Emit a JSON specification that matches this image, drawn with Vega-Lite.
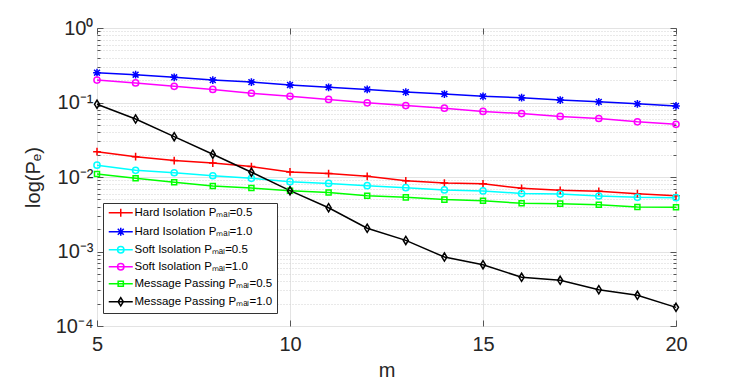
{
  "$schema": "https://vega.github.io/schema/vega-lite/v6.json",
  "autosize": {"type": "none"},
  "width": 579,
  "height": 298,
  "padding": {"left": 97, "top": 28, "right": 71, "bottom": 57},
  "background": "white",
  "config": {
    "font": "Liberation Sans",
    "view": {"stroke": "#555555", "strokeWidth": 1},
    "axis": {"labelFont": "Liberation Sans", "titleFont": "Liberation Sans", "labelColor": "#262626", "titleColor": "#262626", "titleFontWeight": "normal", "domainColor": "#555555", "tickColor": "#555555"}
  },
  "data": {"values": [
    {"m":5,"series":"Hard Isolation Pₘₐₗ=0.5","pe":0.0219},{"m":6,"series":"Hard Isolation Pₘₐₗ=0.5","pe":0.0187},{"m":7,"series":"Hard Isolation Pₘₐₗ=0.5","pe":0.0166},{"m":8,"series":"Hard Isolation Pₘₐₗ=0.5","pe":0.0154},{"m":9,"series":"Hard Isolation Pₘₐₗ=0.5","pe":0.0138},{"m":10,"series":"Hard Isolation Pₘₐₗ=0.5","pe":0.0117},{"m":11,"series":"Hard Isolation Pₘₐₗ=0.5","pe":0.0111},{"m":12,"series":"Hard Isolation Pₘₐₗ=0.5","pe":0.0102},{"m":13,"series":"Hard Isolation Pₘₐₗ=0.5","pe":0.0089},{"m":14,"series":"Hard Isolation Pₘₐₗ=0.5","pe":0.0083},{"m":15,"series":"Hard Isolation Pₘₐₗ=0.5","pe":0.0081},{"m":16,"series":"Hard Isolation Pₘₐₗ=0.5","pe":0.00705},{"m":17,"series":"Hard Isolation Pₘₐₗ=0.5","pe":0.00663},{"m":18,"series":"Hard Isolation Pₘₐₗ=0.5","pe":0.00643},{"m":19,"series":"Hard Isolation Pₘₐₗ=0.5","pe":0.00597},{"m":20,"series":"Hard Isolation Pₘₐₗ=0.5","pe":0.00561},
    {"m":5,"series":"Hard Isolation Pₘₐₗ=1.0","pe":0.251},{"m":6,"series":"Hard Isolation Pₘₐₗ=1.0","pe":0.236},{"m":7,"series":"Hard Isolation Pₘₐₗ=1.0","pe":0.218},{"m":8,"series":"Hard Isolation Pₘₐₗ=1.0","pe":0.200},{"m":9,"series":"Hard Isolation Pₘₐₗ=1.0","pe":0.188},{"m":10,"series":"Hard Isolation Pₘₐₗ=1.0","pe":0.172},{"m":11,"series":"Hard Isolation Pₘₐₗ=1.0","pe":0.160},{"m":12,"series":"Hard Isolation Pₘₐₗ=1.0","pe":0.150},{"m":13,"series":"Hard Isolation Pₘₐₗ=1.0","pe":0.138},{"m":14,"series":"Hard Isolation Pₘₐₗ=1.0","pe":0.130},{"m":15,"series":"Hard Isolation Pₘₐₗ=1.0","pe":0.121},{"m":16,"series":"Hard Isolation Pₘₐₗ=1.0","pe":0.116},{"m":17,"series":"Hard Isolation Pₘₐₗ=1.0","pe":0.108},{"m":18,"series":"Hard Isolation Pₘₐₗ=1.0","pe":0.102},{"m":19,"series":"Hard Isolation Pₘₐₗ=1.0","pe":0.096},{"m":20,"series":"Hard Isolation Pₘₐₗ=1.0","pe":0.090},
    {"m":5,"series":"Soft Isolation Pₘₐₗ=0.5","pe":0.0144},{"m":6,"series":"Soft Isolation Pₘₐₗ=0.5","pe":0.0123},{"m":7,"series":"Soft Isolation Pₘₐₗ=0.5","pe":0.0114},{"m":8,"series":"Soft Isolation Pₘₐₗ=0.5","pe":0.0104},{"m":9,"series":"Soft Isolation Pₘₐₗ=0.5","pe":0.0096},{"m":10,"series":"Soft Isolation Pₘₐₗ=0.5","pe":0.00865},{"m":11,"series":"Soft Isolation Pₘₐₗ=0.5","pe":0.0082},{"m":12,"series":"Soft Isolation Pₘₐₗ=0.5","pe":0.00765},{"m":13,"series":"Soft Isolation Pₘₐₗ=0.5","pe":0.0072},{"m":14,"series":"Soft Isolation Pₘₐₗ=0.5","pe":0.0067},{"m":15,"series":"Soft Isolation Pₘₐₗ=0.5","pe":0.0065},{"m":16,"series":"Soft Isolation Pₘₐₗ=0.5","pe":0.0060},{"m":17,"series":"Soft Isolation Pₘₐₗ=0.5","pe":0.0059},{"m":18,"series":"Soft Isolation Pₘₐₗ=0.5","pe":0.00556},{"m":19,"series":"Soft Isolation Pₘₐₗ=0.5","pe":0.00533},{"m":20,"series":"Soft Isolation Pₘₐₗ=0.5","pe":0.00528},
    {"m":5,"series":"Soft Isolation Pₘₐₗ=1.0","pe":0.200},{"m":6,"series":"Soft Isolation Pₘₐₗ=1.0","pe":0.183},{"m":7,"series":"Soft Isolation Pₘₐₗ=1.0","pe":0.165},{"m":8,"series":"Soft Isolation Pₘₐₗ=1.0","pe":0.150},{"m":9,"series":"Soft Isolation Pₘₐₗ=1.0","pe":0.133},{"m":10,"series":"Soft Isolation Pₘₐₗ=1.0","pe":0.121},{"m":11,"series":"Soft Isolation Pₘₐₗ=1.0","pe":0.110},{"m":12,"series":"Soft Isolation Pₘₐₗ=1.0","pe":0.099},{"m":13,"series":"Soft Isolation Pₘₐₗ=1.0","pe":0.091},{"m":14,"series":"Soft Isolation Pₘₐₗ=1.0","pe":0.084},{"m":15,"series":"Soft Isolation Pₘₐₗ=1.0","pe":0.076},{"m":16,"series":"Soft Isolation Pₘₐₗ=1.0","pe":0.071},{"m":17,"series":"Soft Isolation Pₘₐₗ=1.0","pe":0.065},{"m":18,"series":"Soft Isolation Pₘₐₗ=1.0","pe":0.061},{"m":19,"series":"Soft Isolation Pₘₐₗ=1.0","pe":0.055},{"m":20,"series":"Soft Isolation Pₘₐₗ=1.0","pe":0.051},
    {"m":5,"series":"Message Passing Pₘₐₗ=0.5","pe":0.01097},{"m":6,"series":"Message Passing Pₘₐₗ=0.5","pe":0.0096},{"m":7,"series":"Message Passing Pₘₐₗ=0.5","pe":0.0085},{"m":8,"series":"Message Passing Pₘₐₗ=0.5","pe":0.00757},{"m":9,"series":"Message Passing Pₘₐₗ=0.5","pe":0.0071},{"m":10,"series":"Message Passing Pₘₐₗ=0.5","pe":0.00655},{"m":11,"series":"Message Passing Pₘₐₗ=0.5","pe":0.0062},{"m":12,"series":"Message Passing Pₘₐₗ=0.5","pe":0.0056},{"m":13,"series":"Message Passing Pₘₐₗ=0.5","pe":0.00533},{"m":14,"series":"Message Passing Pₘₐₗ=0.5","pe":0.00497},{"m":15,"series":"Message Passing Pₘₐₗ=0.5","pe":0.00481},{"m":16,"series":"Message Passing Pₘₐₗ=0.5","pe":0.00443},{"m":17,"series":"Message Passing Pₘₐₗ=0.5","pe":0.00439},{"m":18,"series":"Message Passing Pₘₐₗ=0.5","pe":0.00425},{"m":19,"series":"Message Passing Pₘₐₗ=0.5","pe":0.00395},{"m":20,"series":"Message Passing Pₘₐₗ=0.5","pe":0.00392},
    {"m":5,"series":"Message Passing Pₘₐₗ=1.0","pe":0.0946},{"m":6,"series":"Message Passing Pₘₐₗ=1.0","pe":0.060},{"m":7,"series":"Message Passing Pₘₐₗ=1.0","pe":0.0348},{"m":8,"series":"Message Passing Pₘₐₗ=1.0","pe":0.0202},{"m":9,"series":"Message Passing Pₘₐₗ=1.0","pe":0.0116},{"m":10,"series":"Message Passing Pₘₐₗ=1.0","pe":0.00655},{"m":11,"series":"Message Passing Pₘₐₗ=1.0","pe":0.00387},{"m":12,"series":"Message Passing Pₘₐₗ=1.0","pe":0.00205},{"m":13,"series":"Message Passing Pₘₐₗ=1.0","pe":0.00141},{"m":14,"series":"Message Passing Pₘₐₗ=1.0","pe":0.000843},{"m":15,"series":"Message Passing Pₘₐₗ=1.0","pe":0.000665},{"m":16,"series":"Message Passing Pₘₐₗ=1.0","pe":0.00045},{"m":17,"series":"Message Passing Pₘₐₗ=1.0","pe":0.00041},{"m":18,"series":"Message Passing Pₘₐₗ=1.0","pe":0.000307},{"m":19,"series":"Message Passing Pₘₐₗ=1.0","pe":0.000258},{"m":20,"series":"Message Passing Pₘₐₗ=1.0","pe":0.000178}
  ]},
  "resolve": {"scale": {"x": "independent", "y": "independent"}},
  "layer": [
    {
      "encoding": {
        "x": {"field": "m", "type": "quantitative", "title": "m",
          "scale": {"domain": [5, 20], "nice": false, "zero": false},
          "axis": {"values": [5, 10, 15, 20], "labelFontSize": 20, "titleFontSize": 20, "tickSize": -6, "labelPadding": 14, "titlePadding": 6,
            "gridColor": "#e3e3e3", "gridWidth": 1, "domain": false, "labelFlush": false}},
        "y": {"field": "pe", "type": "quantitative", "title": "log(Pₑ)",
          "scale": {"type": "log", "domain": [0.0001, 1], "nice": false},
          "axis": {
            "values": [0.0001,0.0002,0.0003,0.0004,0.0005,0.0006,0.0007,0.0008,0.0009,0.001,0.002,0.003,0.004,0.005,0.006,0.007,0.008,0.009,0.01,0.02,0.03,0.04,0.05,0.06,0.07,0.08,0.09,0.1,0.2,0.3,0.4,0.5,0.6,0.7,0.8,0.9,1],
            "labelExpr": "datum.value == 1 ? '10⁰' : datum.value == 0.1 ? '10⁻¹' : datum.value == 0.01 ? '10⁻²' : datum.value == 0.001 ? '10⁻³' : datum.value == 0.0001 ? '10⁻⁴' : ''",
            "labelFontSize": 20, "titleFontSize": 20, "labelOverlap": false, "labelFlush": false, "labelPadding": 10, "titlePadding": 12, "domain": false,
            "tickSize": {"condition": {"test": "indexof([1,0.1,0.01,0.001,0.0001], datum.value) >= 0", "value": -6}, "value": -3},
            "gridColor": {"condition": {"test": "indexof([1,0.1,0.01,0.001,0.0001], datum.value) >= 0", "value": "#e3e3e3"}, "value": "#d2d2d2"},
            "gridDash": {"condition": {"test": "indexof([1,0.1,0.01,0.001,0.0001], datum.value) >= 0", "value": []}, "value": [1, 2]}
          }},
        "color": {"field": "series", "type": "nominal",
          "scale": {"domain": ["Hard Isolation Pₘₐₗ=0.5","Hard Isolation Pₘₐₗ=1.0","Soft Isolation Pₘₐₗ=0.5","Soft Isolation Pₘₐₗ=1.0","Message Passing Pₘₐₗ=0.5","Message Passing Pₘₐₗ=1.0"],
                    "range": ["#ff0000","#0000ff","#00ffff","#ff00ff","#00ff00","#000000"]},
          "legend": {"orient": "none", "legendX": 6, "legendY": 175, "title": null, "fillColor": "white", "strokeColor": "#333333", "padding": 4,
            "labelFont": "Liberation Sans", "labelFontSize": 11.5, "labelColor": "#000000", "symbolSize": 64, "symbolStrokeWidth": 1.5, "symbolOffset": 8, "labelOffset": 8, "rowPadding": 4,
            "encode": {"symbols": {"update": {"shape": {"signal": "'M-3,0H3' + scale('shape', datum.value)"}, "fill": {"value": "transparent"}}}}}
        }
      },
      "layer": [
        {"mark": {"type": "line", "strokeWidth": 1.5}},
        {"mark": {"type": "point", "filled": false, "size": 60, "strokeWidth": 1.5, "opacity": 1},
         "encoding": {
           "shape": {"field": "series", "type": "nominal",
             "scale": {"domain": ["Message Passing Pₘₐₗ=1.0","Message Passing Pₘₐₗ=0.5","Soft Isolation Pₘₐₗ=1.0","Soft Isolation Pₘₐₗ=0.5","Hard Isolation Pₘₐₗ=1.0","Hard Isolation Pₘₐₗ=0.5"],
                       "range": ["M0,-1.05L0.65,0L0,1.05L-0.65,0Z", "M-0.65,-0.65H0.65V0.65H-0.65Z", "M0.8,0A0.8,0.8,0,1,1,-0.8,0A0.8,0.8,0,1,1,0.8,0Z", "M0.8,0A0.8,0.8,0,1,1,-0.8,0A0.8,0.8,0,1,1,0.8,0Z", "M-1,0H1M0,-1V1M-0.75,-0.75L0.75,0.75M-0.75,0.75L0.75,-0.75", "M-1,0H1M0,-1V1"]},
             "legend": null}
         }}
      ]
    },
    {
      "mark": {"type": "point", "opacity": 0},
      "encoding": {
        "x": {"field": "m", "type": "quantitative",
          "scale": {"domain": [5, 20], "nice": false, "zero": false},
          "axis": {"orient": "top", "values": [5, 10, 15, 20], "labels": false, "title": null, "grid": false, "domain": false, "tickSize": -6}},
        "y": {"field": "pe", "type": "quantitative",
          "scale": {"type": "log", "domain": [0.0001, 1], "nice": false},
          "axis": {"orient": "right", "labels": false, "title": null, "grid": false, "domain": false,
            "values": [0.0001,0.0002,0.0003,0.0004,0.0005,0.0006,0.0007,0.0008,0.0009,0.001,0.002,0.003,0.004,0.005,0.006,0.007,0.008,0.009,0.01,0.02,0.03,0.04,0.05,0.06,0.07,0.08,0.09,0.1,0.2,0.3,0.4,0.5,0.6,0.7,0.8,0.9,1],
            "tickSize": {"condition": {"test": "indexof([1,0.1,0.01,0.001,0.0001], datum.value) >= 0", "value": -6}, "value": -3}}}
      }
    }
  ]
}
